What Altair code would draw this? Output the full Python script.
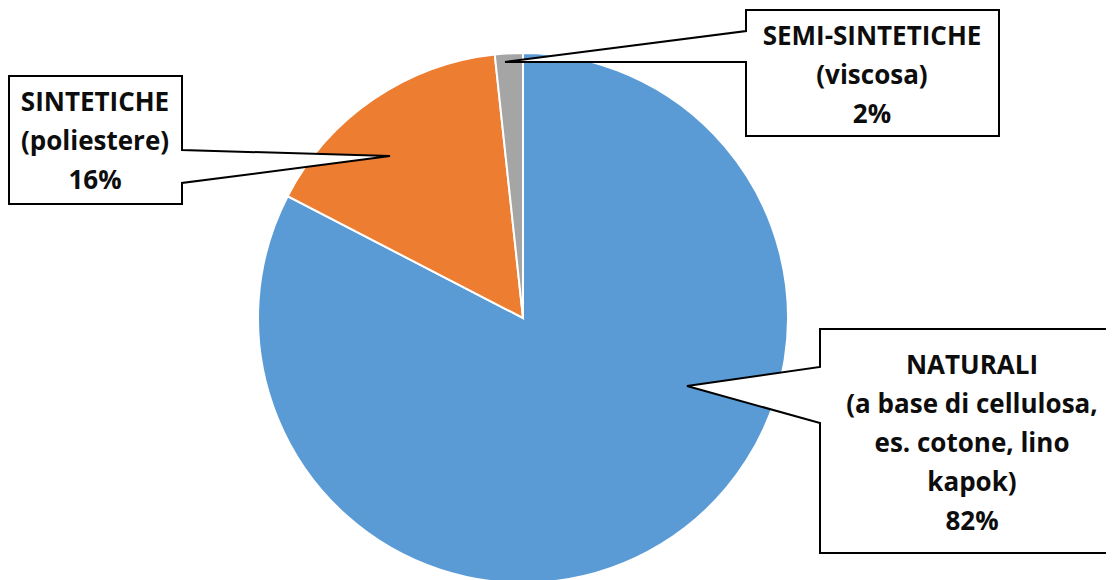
import altair as alt
import pandas as pd

# Slices, clockwise from 12 o'clock (shares)
categories = ["NATURALI", "SINTETICHE", "SEMI-SINTETICHE"]
shares = [82.6, 15.7, 1.7]
colors = ["#5B9BD5", "#ED7D31", "#A5A5A5"]

# Callout texts, one list of lines per slice
label_lines = [
    ["NATURALI", "(a base di cellulosa,", "es. cotone, lino", "kapok)", "82%"],
    ["SINTETICHE", "(poliestere)", "16%"],
    ["SEMI-SINTETICHE", "(viscosa)", "2%"],
]

# ---- layout (pixels inside the chart) ----
W, H = 1098, 572
PIE_X, PIE_Y, PIE_R = 515, 310, 265

# box (x0, y0, x1, y1), side the pointer leaves from, pointer base ys, tip,
# centre of the first text line
callout_layout = {
    "NATURALI": dict(box=(812, 321, 1120, 545), side="left", base=(359, 415),
                     tip=(679, 378), text=(964, 358)),
    "SINTETICHE": dict(box=(1, 68, 174, 196), side="right", base=(142, 175),
                       tip=(382, 148), text=(87, 95)),
    "SEMI-SINTETICHE": dict(box=(738, 2, 991, 128), side="left", base=(23, 54),
                            tip=(497, 54), text=(864, 29)),
}

pie_df = pd.DataFrame({
    "categoria": categories,
    "quota": shares,
    "ordine": list(range(len(categories))),
})

box_rows, wedge_rows, outline_rows, text_rows = [], [], [], []
for cat, lines in zip(categories, label_lines):
    lay = callout_layout[cat]
    x0, y0, x1, y1 = lay["box"]
    a, b = lay["base"]
    tx, ty = lay["tip"]
    box_rows.append(dict(cat=cat, x0=x0, y0=y0, x1=x1, y1=y1))
    edge = x0 if lay["side"] == "left" else x1
    wedge_rows += [dict(cat=cat, px=edge, py=a, py2=b),
                   dict(cat=cat, px=tx, py=ty, py2=ty)]
    if lay["side"] == "left":
        pts = [(x0, y0), (x1, y0), (x1, y1), (x0, y1), (x0, b), (tx, ty), (x0, a), (x0, y0)]
    else:
        pts = [(x0, y0), (x1, y0), (x1, a), (tx, ty), (x1, b), (x1, y1), (x0, y1), (x0, y0)]
    for i, (px, py) in enumerate(pts):
        outline_rows.append(dict(cat=cat, i=i, px=px, py=py))
    text_rows.append(dict(cat=cat, label="\n".join(lines), px=lay["text"][0], py=lay["text"][1]))

xs = alt.Scale(domain=[0, W], range=[0, W], nice=False, zero=False)
ys = alt.Scale(domain=[0, H], range=[0, H], nice=False, zero=False)

pie = alt.Chart(pie_df).mark_arc(stroke="white", strokeWidth=2).encode(
    theta=alt.Theta("quota:Q", stack=True),
    order=alt.Order("ordine:Q"),
    color=alt.Color("categoria:N", scale=alt.Scale(domain=categories, range=colors), legend=None),
    x=alt.value(PIE_X),
    y=alt.value(PIE_Y),
    radius=alt.value(PIE_R),
)

boxes = alt.Chart(pd.DataFrame(box_rows)).mark_rect(fill="white").encode(
    x=alt.X("x0:Q", scale=xs, axis=None), x2="x1:Q",
    y=alt.Y("y0:Q", scale=ys, axis=None), y2="y1:Q",
)

wedges = alt.Chart(pd.DataFrame(wedge_rows)).mark_area(fill="white", opacity=1).encode(
    x=alt.X("px:Q", scale=xs, axis=None),
    y=alt.Y("py:Q", scale=ys, axis=None), y2="py2:Q",
    detail="cat:N",
)

outline = alt.Chart(pd.DataFrame(outline_rows)).mark_line(
    color="black", strokeWidth=2, strokeJoin="miter", strokeCap="square"
).encode(
    x=alt.X("px:Q", scale=xs, axis=None),
    y=alt.Y("py:Q", scale=ys, axis=None),
    order="i:Q",
    detail="cat:N",
)

texts = alt.Chart(pd.DataFrame(text_rows)).mark_text(
    font="Open Sans", fontWeight="bold", fontSize=26, lineBreak="\n", lineHeight=39,
    align="center", baseline="middle", color="#0D0D0D"
).encode(
    x=alt.X("px:Q", scale=xs, axis=None),
    y=alt.Y("py:Q", scale=ys, axis=None),
    text="label:N",
)

chart = alt.layer(pie, boxes, wedges, outline, texts).properties(
    width=W, height=H, padding=0, autosize=alt.AutoSizeParams(type="none"), background="white"
).configure_view(stroke=None)

chart.save("out.html", embed_options={"renderer": "svg", "actions": False})
